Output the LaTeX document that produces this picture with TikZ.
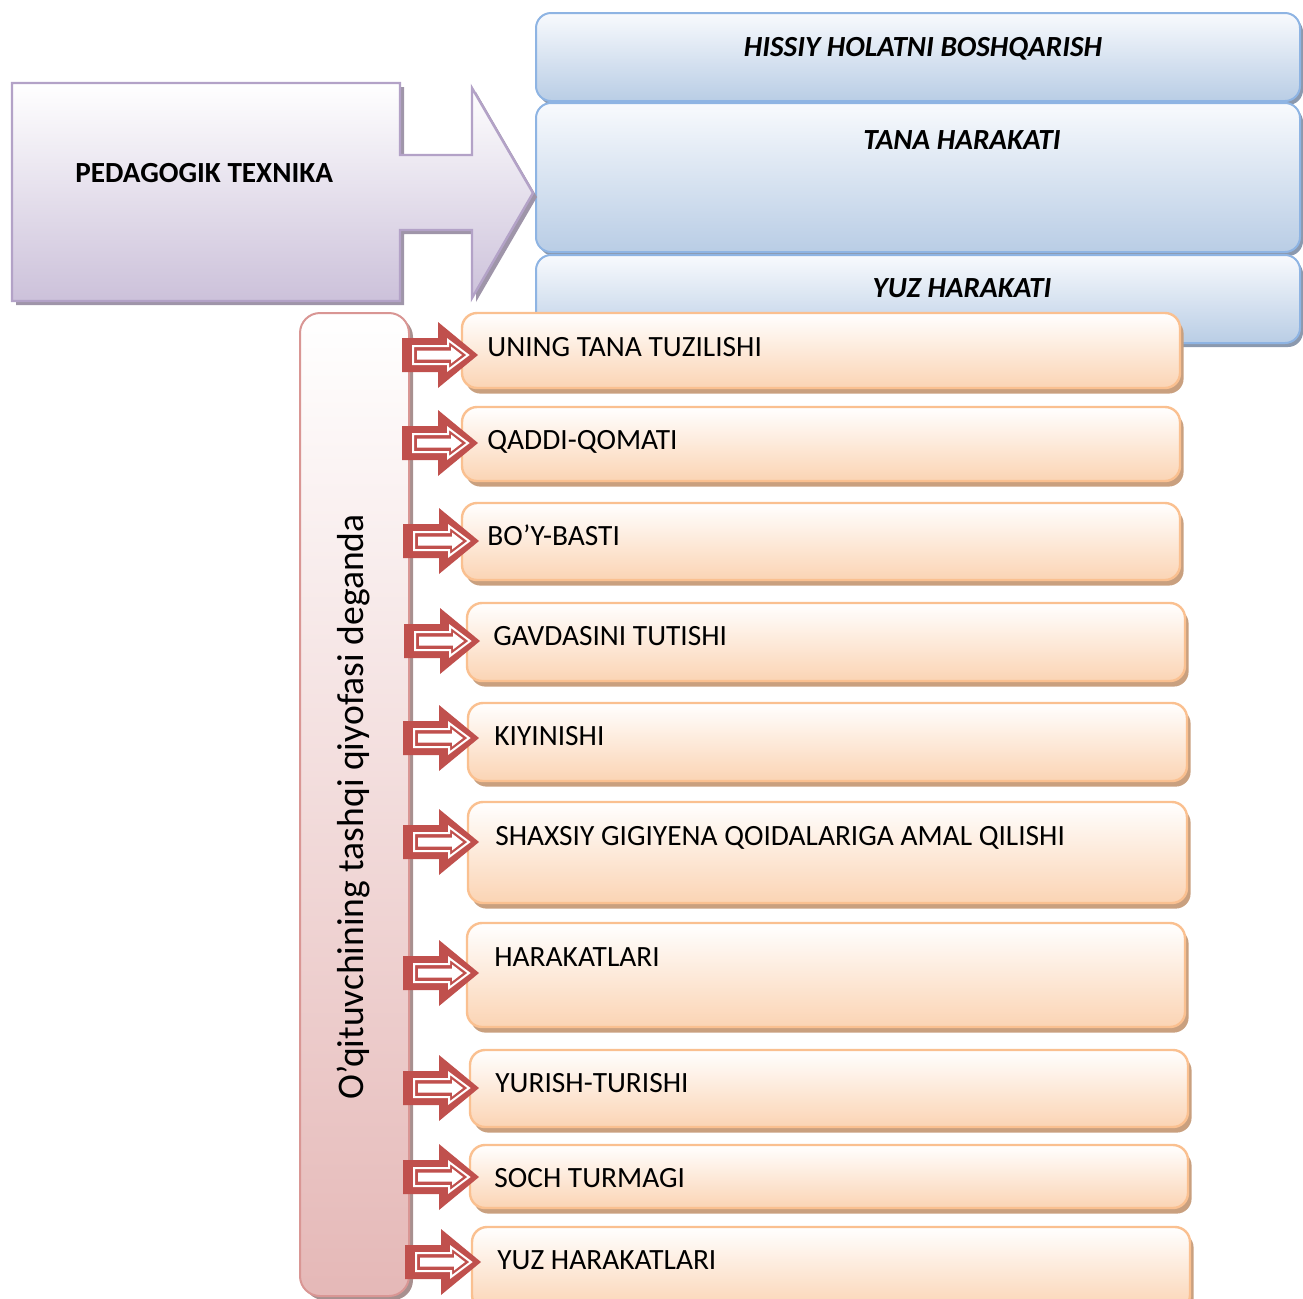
\documentclass[tikz,border=0pt]{standalone}
\usepackage{fontspec}
\setmainfont{Carlito}
\usetikzlibrary{shadows}
\definecolor{bluetop}{HTML}{F8FAFD}
\definecolor{bluebot}{HTML}{B9CDE5}
\definecolor{blueline}{HTML}{8EB4E3}
\definecolor{blueshadow}{HTML}{8B99AE}
\definecolor{purpbot}{HTML}{CCC1DA}
\definecolor{purpline}{HTML}{B3A2C7}
\definecolor{purpshadow}{HTML}{9F95A9}
\definecolor{pinkbot}{HTML}{E5B8B7}
\definecolor{pinkline}{HTML}{D99694}
\definecolor{pinkshadow}{HTML}{A8908F}
\definecolor{orbot}{HTML}{FBD4B4}
\definecolor{orline}{HTML}{FAC090}
\definecolor{orshadow}{HTML}{C9A07F}
\definecolor{arrowred}{HTML}{C0504D}
\newcommand\pxbox[6]{%
  \node[#2, minimum width={(#5-#3)*0.5pt}, minimum height={(#6-#4)*0.5pt}] (#1) at ({(#3+#5)/2},{(#4+#6)/2}) {};}
\newcommand\redarrow[3]{%
  \begin{scope}[shift={(#2,#3)}]
   \fill[arrowred] (0,-17) -- (36,-17) -- (36,-33) -- (76,0) -- (36,33) -- (36,17) -- (0,17) -- cycle;
   \draw[white, line width=1pt, line join=miter] (11,-9) -- (46,-9) -- (46,-15) -- (66,0) -- (46,15) -- (46,9) -- (11,9) -- cycle;
   \fill[white] (15,-4.5) -- (49,-4.5) -- (49,-8.5) -- (60,0) -- (49,8.5) -- (49,4.5) -- (15,4.5) -- cycle;
   \coordinate (#1) at (76,0);
  \end{scope}}
\tikzset{
  bluebox/.style={shape=rectangle, inner sep=0pt, rounded corners=7.5pt, draw=blueline, line width=1pt,
    top color=bluetop, bottom color=bluebot,
    drop shadow={shadow xshift=1.5pt, shadow yshift=-2pt, opacity=1, fill=blueshadow}},
  orbox/.style={shape=rectangle, inner sep=0pt, rounded corners=7.5pt, draw=orline, line width=1.2pt,
    top color=white, bottom color=orbot,
    drop shadow={shadow xshift=1.8pt, shadow yshift=-2.8pt, opacity=1, fill=orshadow}},
  pinkbox/.style={shape=rectangle, inner sep=0pt, rounded corners=10pt, draw=pinkline, line width=1pt,
    top color=white, bottom color=pinkbot,
    drop shadow={shadow xshift=2pt, shadow yshift=-2pt, opacity=1, fill=pinkshadow}},
  btext/.style={inner sep=0pt, font=\fontsize{14.6pt}{17pt}\selectfont\bfseries\itshape},
  otext/.style={inner sep=0pt, anchor=base west, font=\fontsize{14.7pt}{17pt}\selectfont},
}
\begin{document}
\begin{tikzpicture}[x=0.5pt,y=-0.5pt]
\useasboundingbox (0,0) rectangle (1303,1298);
\clip (0,0) rectangle (1303,1298);
% blue boxes
\pxbox{b1}{bluebox}{536}{13}{1300}{101}
\pxbox{b2}{bluebox}{536}{103}{1300}{252}
\pxbox{b3}{bluebox}{536}{255}{1300}{343}
\node[btext, anchor=base] (tb1) at (923,56) {HISSIY HOLATNI BOSHQARISH};
\node[btext, anchor=base] (tb2) at (962,149) {TANA HARAKATI};
\node[btext, anchor=base] (tb3) at (962,297) {YUZ HARAKATI};
% purple block arrow
\fill[purpshadow] (16,87) -- (404,87) -- (404,159) -- (476,159) -- (476,92) -- (537,197) -- (476,302) -- (476,234) -- (404,234) -- (404,305) -- (16,305) -- cycle;
\shadedraw[top color=white, bottom color=purpbot, draw=purpline, line width=1.2pt, line join=miter]
  (12,83) -- (400,83) -- (400,155) -- (472,155) -- (472,88) -- (533,193) -- (472,298) -- (472,230) -- (400,230) -- (400,301) -- (12,301) -- cycle;
\coordinate (ptip) at (533,193);
\node[inner sep=0pt, anchor=base west, font=\fontsize{14.6pt}{17pt}\selectfont\bfseries] (pt) at (75,182) {PEDAGOGIK TEXNIKA};
% pink vertical box
\pxbox{pk}{pinkbox}{300}{313}{409}{1296}
\node[inner sep=0pt, rotate=90, anchor=base, font=\fontsize{18.8pt}{22pt}\selectfont] (pkt) at (363,807) {O’qituvchining tashqi qiyofasi deganda};
% orange boxes
\pxbox{o1}{orbox}{462}{313}{1180}{388}
\pxbox{o2}{orbox}{462}{407}{1180}{481}
\pxbox{o3}{orbox}{462}{503}{1180}{580}
\pxbox{o4}{orbox}{467}{603}{1185}{681}
\pxbox{o5}{orbox}{468}{703}{1187}{781}
\pxbox{o6}{orbox}{468}{802}{1187}{903}
\pxbox{o7}{orbox}{467}{923}{1185}{1027}
\pxbox{o8}{orbox}{470}{1050}{1188}{1127}
\pxbox{o9}{orbox}{470}{1145}{1188}{1208}
\pxbox{o10}{orbox}{472}{1227}{1190}{1310}
\node[otext] (to1) at (487,356) {UNING TANA TUZILISHI};
\node[otext] (to2) at (487,449) {QADDI-QOMATI};
\node[otext] (to3) at (487,545) {BO’Y-BASTI};
\node[otext] (to4) at (493,645) {GAVDASINI TUTISHI};
\node[otext] (to5) at (494,745) {KIYINISHI};
\node[otext] (to6) at (495,845) {SHAXSIY GIGIYENA QOIDALARIGA AMAL QILISHI};
\node[otext] (to7) at (494,966) {HARAKATLARI};
\node[otext] (to8) at (495,1092) {YURISH-TURISHI};
\node[otext] (to9) at (494,1187) {SOCH TURMAGI};
\node[otext] (to10) at (497,1269) {YUZ HARAKATLARI};
% red block arrows
\redarrow{a1}{402}{355}
\redarrow{a2}{402}{443}
\redarrow{a3}{403}{541}
\redarrow{a4}{404}{641}
\redarrow{a5}{403}{738}
\redarrow{a6}{403}{842}
\redarrow{a7}{403}{973}
\redarrow{a8}{403}{1088}
\redarrow{a9}{403}{1177}
\redarrow{a10}{405}{1262}
\end{tikzpicture}
\end{document}
